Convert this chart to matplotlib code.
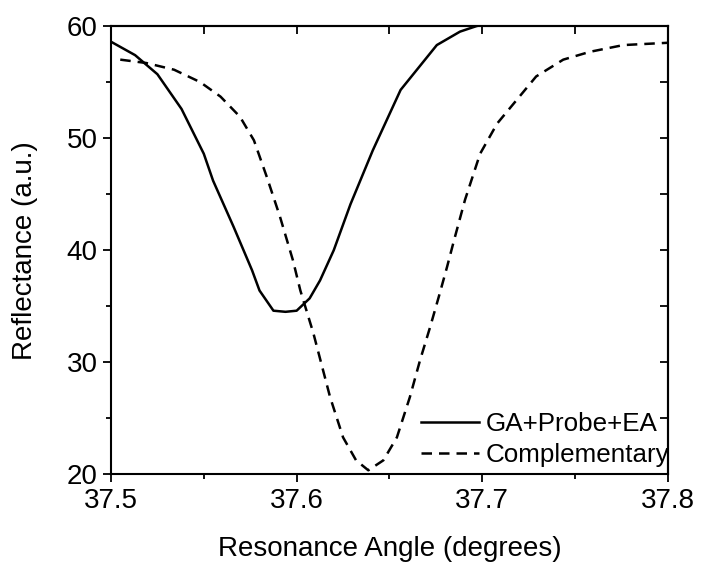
import matplotlib
matplotlib.use("Agg")
import matplotlib.pyplot as plt
from matplotlib.ticker import MultipleLocator, FormatStrFormatter

plt.rcParams['font.family'] = ['Liberation Sans', 'DejaVu Sans']

# SPR reflectance curves
angle_ga = [37.500, 37.513, 37.525, 37.538, 37.550, 37.555, 37.566, 37.576,
            37.580, 37.5875, 37.594, 37.600, 37.607, 37.6126, 37.620, 37.629,
            37.641, 37.656, 37.6755, 37.688, 37.697, 37.703]
refl_ga = [58.6, 57.4, 55.7, 52.6, 48.6, 46.2, 42.1, 38.2,
           36.4, 34.6, 34.5, 34.6, 35.7, 37.3, 40.0, 44.1,
           48.9, 54.3, 58.3, 59.5, 60.0, 60.2]

angle_comp = [37.505, 37.519, 37.534, 37.548, 37.559, 37.5695, 37.577, 37.584,
              37.591, 37.598, 37.602, 37.609, 37.618, 37.625, 37.632, 37.6386,
              37.6467, 37.654, 37.661, 37.6665, 37.672, 37.677, 37.681,
              37.6848, 37.6907, 37.6988, 37.708, 37.7185, 37.729, 37.7436,
              37.758, 37.776, 37.7995]
refl_comp = [57.0, 56.7, 56.1, 55.0, 53.7, 51.9, 49.8, 46.5,
             43.0, 39.1, 36.4, 32.6, 26.9, 23.3, 21.25, 20.36,
             21.25, 23.3, 26.9, 30.2, 33.2, 36.1, 38.5,
             40.9, 44.5, 48.6, 51.3, 53.4, 55.5, 57.0,
             57.7, 58.3, 58.5]

fig = plt.figure(figsize=(7.01, 5.63), dpi=100)
ax = fig.add_axes([0.1583, 0.1575, 0.7946, 0.7963])

ax.plot(angle_ga, refl_ga, color='black', lw=1.8, label='GA+Probe+EA')
ax.plot(angle_comp, refl_comp, color='black', lw=1.8, ls=(0, (4.2, 2.8)),
        label='Complementary')

ax.set_xlim(37.5, 37.8)
ax.set_ylim(20, 60)
ax.xaxis.set_major_locator(MultipleLocator(0.1))
ax.xaxis.set_minor_locator(MultipleLocator(0.05))
ax.xaxis.set_major_formatter(FormatStrFormatter('%.1f'))
ax.yaxis.set_major_locator(MultipleLocator(10))
ax.yaxis.set_minor_locator(MultipleLocator(5))
ax.tick_params(which='major', direction='out', length=6, width=1.3,
               labelsize=20, pad=3.5)
ax.tick_params(which='minor', direction='out', length=3.5, width=1.3)

for sp in ax.spines.values():
    sp.set_linewidth(1.5)

# inward ticks on the top and right frame edges
top = ax.secondary_xaxis('top')
top.xaxis.set_major_locator(MultipleLocator(0.05))
top.tick_params(direction='in', length=5.5, width=1.3, labeltop=False)
top.spines['top'].set_linewidth(1.5)
right = ax.secondary_yaxis('right')
right.yaxis.set_major_locator(MultipleLocator(5))
right.tick_params(direction='in', length=6, width=1.3, labelright=False)
right.spines['right'].set_linewidth(1.5)

ax.set_xlabel('Resonance Angle (degrees)', fontsize=20, labelpad=16)
ax.set_ylabel('Reflectance (a.u.)', fontsize=20, labelpad=21)

ax.legend(loc='lower right', bbox_to_anchor=(1.007, 0.011), frameon=False,
          fontsize=18.7, handlelength=2.25, handletextpad=0.25,
          borderaxespad=0.0, borderpad=0.1, labelspacing=0.27)

fig.savefig('out.png', dpi=100)
